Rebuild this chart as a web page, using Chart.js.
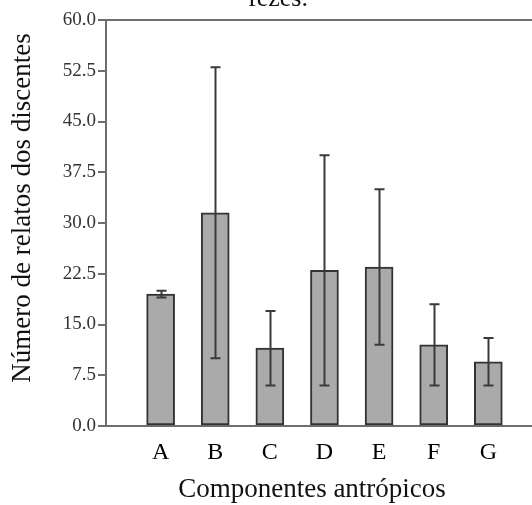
<!DOCTYPE html>
<html>
<head>
<meta charset="utf-8">
<script src="https://cdn.jsdelivr.net/npm/chart.js@4"></script>
<style>
  body { margin: 0; overflow: hidden; background: #fff; }
  #wrap { position: relative; width: 532px; height: 505px; }
  #topTitle { position: absolute; left: 248px; top: -15px; font: 26px "Liberation Serif", serif; line-height: 26px; color: #111; white-space: nowrap; }
</style>
</head>
<body>
<div id="wrap">
  <canvas id="chart" width="532" height="505"></canvas>
  <div id="topTitle">fezes.</div>
</div>
<script>
// dados
const categories = ['A', 'B', 'C', 'D', 'E', 'F', 'G'];
const means = [19.5, 31.5, 11.5, 23.0, 23.5, 12.0, 9.5];
const errLow = [19.0, 10.0, 6.0, 6.0, 12.0, 6.0, 6.0];
const errHigh = [20.0, 53.0, 17.0, 40.0, 35.0, 18.0, 13.0];
const yTicks = [0, 7.5, 15, 22.5, 30, 37.5, 45, 52.5, 60];

const yTitle = 'Número de relatos dos discentes';
const xTitle = 'Componentes antrópicos';

// cada categoria numa posição inteira do eixo x (1..7); o eixo continua cortado à direita
const points = categories.map((c, i) => ({ x: i + 1, y: means[i] }));

// barras de erro
const errorBars = {
    id: 'errorBars',
    afterDatasetsDraw(chart) {
        const ctx = chart.ctx;
        const y = chart.scales.y;
        const meta = chart.getDatasetMeta(0);
        ctx.save();
        ctx.strokeStyle = '#3a3a3a';
        ctx.lineWidth = 2;
        meta.data.forEach((bar, i) => {
            const x = Math.round(bar.x) + 0.5;
            const yh = y.getPixelForValue(errHigh[i]);
            const yl = y.getPixelForValue(errLow[i]);
            ctx.beginPath();
            ctx.moveTo(x, yh); ctx.lineTo(x, yl);
            ctx.moveTo(x - 5, yh); ctx.lineTo(x + 5, yh);
            ctx.moveTo(x - 5, yl); ctx.lineTo(x + 5, yl);
            ctx.stroke();
        });
        ctx.restore();
    }
};

// títulos dos eixos desenhados à mão para posicionar igual à figura
const axisTitles = {
    id: 'axisTitles',
    afterDraw(chart) {
        const ctx = chart.ctx;
        ctx.save();
        ctx.fillStyle = '#111';
        ctx.font = '27px "Liberation Serif", serif';
        ctx.textAlign = 'center';
        ctx.textBaseline = 'middle';
        ctx.fillText(xTitle, 312, 490);
        ctx.translate(23, 208);
        ctx.rotate(-Math.PI / 2);
        ctx.fillText(yTitle, 0, 0);
        ctx.restore();
    }
};

new Chart(document.getElementById('chart'), {
    type: 'bar',
    data: {
        datasets: [{
            data: points,
            backgroundColor: '#aaaaaa',
            borderColor: '#333',
            borderWidth: 2,
            borderSkipped: false,
            barThickness: 28
        }]
    },
    options: {
        responsive: false,
        animation: false,
        layout: { padding: { top: 20, right: 0, left: 0, bottom: 0 } },
        plugins: { legend: { display: false }, tooltip: { enabled: false } },
        scales: {
            x: {
                type: 'linear',
                offset: false,
                min: 0,
                max: 7.8,
                afterBuildTicks(scale) { scale.ticks = categories.map((c, i) => ({ value: i + 1 })); },
                grid: { display: false, drawTicks: false },
                border: { display: true, color: '#6e6e6e', width: 2 },
                ticks: {
                    padding: 12,
                    maxRotation: 0,
                    autoSkip: false,
                    color: '#000',
                    font: { family: '"Liberation Serif", serif', size: 24 },
                    callback: v => categories[Math.round(v) - 1]
                },
                afterFit(scale) { scale.height = 79; }
            },
            y: {
                min: 0,
                max: 60,
                afterBuildTicks(scale) { scale.ticks = yTicks.map(v => ({ value: v })); },
                grid: {
                    color: ctx => (ctx.tick && ctx.tick.value === 60 ? '#6e6e6e' : 'rgba(0,0,0,0)'),
                    lineWidth: 2,
                    tickColor: '#6e6e6e',
                    tickLength: 8
                },
                border: { display: true, color: '#6e6e6e', width: 2 },
                ticks: {
                    padding: 2,
                    color: '#333',
                    font: { family: '"Liberation Serif", serif', size: 19 },
                    callback: v => Number(v).toFixed(1)
                },
                afterFit(scale) { scale.width = 106; }
            }
        }
    },
    plugins: [errorBars, axisTitles]
});
</script>
</body>
</html>
